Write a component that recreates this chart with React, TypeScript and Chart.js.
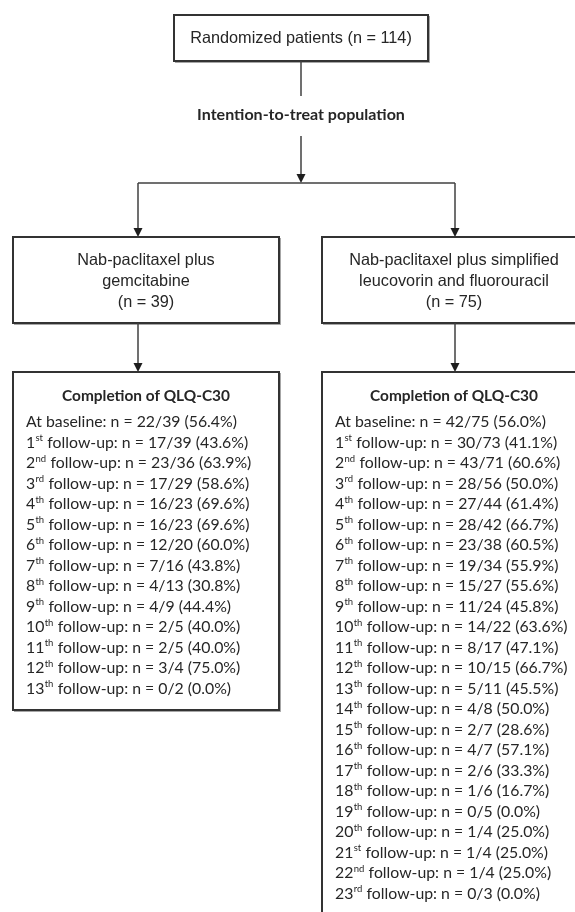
import React, { useEffect, useRef } from 'react';
import { Chart, registerables } from 'chart.js';

Chart.register(...registerables);

// ---------- data ----------
const topLabel = 'Randomized patients (n = 114)';
const ittLabel = 'Intention-to-treat population';
const armNameA = ['Nab-paclitaxel plus', 'gemcitabine'];
const armNameB = ['Nab-paclitaxel plus simplified', 'leucovorin and fluorouracil'];
const armN = [39, 75];
const boxTitle = 'Completion of QLQ-C30';
const baselineLabel = 'At baseline';
const followLabel = 'follow-up';

const armACompleted = [22, 17, 23, 17, 16, 16, 12, 7, 4, 4, 2, 2, 3, 0];
const armATotal = [39, 39, 36, 29, 23, 23, 20, 16, 13, 9, 5, 5, 4, 2];
const armAPct = ['56.4', '43.6', '63.9', '58.6', '69.6', '69.6', '60.0', '43.8', '30.8', '44.4', '40.0', '40.0', '75.0', '0.0'];

const armBCompleted = [42, 30, 43, 28, 27, 28, 23, 19, 15, 11, 14, 8, 10, 5, 4, 2, 4, 2, 1, 0, 1, 1, 1, 0];
const armBTotal = [75, 73, 71, 56, 44, 42, 38, 34, 27, 24, 22, 17, 15, 11, 8, 7, 7, 6, 6, 5, 4, 4, 4, 3];
const armBPct = ['56.0', '41.1', '60.6', '50.0', '61.4', '66.7', '60.5', '55.9', '55.6', '45.8', '63.6', '47.1', '66.7', '45.5', '50.0', '28.6', '57.1', '33.3', '16.7', '0.0', '25.0', '25.0', '25.0', '0.0'];

// ---------- layout (page coordinates) ----------
const W = 575;
const H = 912;
const L = {
  top: { x0: 174, x1: 428, y0: 15, y1: 61 },
  cx: 301,
  ittY: 115,
  line1: [61, 96],
  arrow1: [136, 183],
  hY: 183,
  armX: [138, 455],
  armBoxY: [237, 323],
  armBoxX: [[13, 279], [322, 590]],
  armTextY: [261, 282, 303],
  compBoxY: [372, [710, 940]],
  titleY: 396,
  listY0: 422,
  listStep: 20.5,
  listX: [26, 335],
};

const SANS = '"Liberation Sans", Arial, sans-serif';
const CAL = 'Lato, "Open Sans", sans-serif';
const LINE = '#404040';
const BOX = '#333333';
const TEXT = '#262626';

function ordSuffix(n: number): string {
  const m100 = n % 100;
  if (m100 >= 11 && m100 <= 13) return 'th';
  const m = n % 10;
  if (m === 1) return 'st';
  if (m === 2) return 'nd';
  if (m === 3) return 'rd';
  return 'th';
}

function fitSize(ctx: CanvasRenderingContext2D, text: string, weight: string, family: string, target: number) {
  ctx.font = `${weight} 20px ${family}`;
  const w = ctx.measureText(text).width;
  return (20 * target) / w;
}

const flowPlugin = {
  id: 'flow',
  beforeDraw(chart: any) {
    const ctx = chart.ctx as CanvasRenderingContext2D;
    ctx.save();
    ctx.fillStyle = '#ffffff';
    ctx.fillRect(0, 0, chart.width, chart.height);
    ctx.restore();
  },
  afterDraw(chart: any) {
    const ctx = chart.ctx as CanvasRenderingContext2D;
    const xs = chart.scales.x;
    const ys = chart.scales.y;
    const px = (v: number) => xs.getPixelForValue(v);
    const py = (v: number) => ys.getPixelForValue(v);

    const box = (x0: number, y0: number, x1: number, y1: number) => {
      ctx.save();
      ctx.strokeStyle = BOX;
      ctx.lineWidth = 2;
      ctx.strokeRect(px(x0), py(y0), px(x1) - px(x0), py(y1) - py(y0));
      ctx.strokeStyle = 'rgba(0,0,0,0.35)';
      ctx.lineWidth = 1;
      ctx.beginPath();
      ctx.moveTo(px(x0) + 1, py(y1) + 1.5);
      ctx.lineTo(px(x1) + 1.5, py(y1) + 1.5);
      ctx.lineTo(px(x1) + 1.5, py(y0) + 1);
      ctx.stroke();
      ctx.restore();
    };
    const line = (x0: number, y0: number, x1: number, y1: number) => {
      ctx.save();
      ctx.strokeStyle = LINE;
      ctx.lineWidth = 1.5;
      ctx.beginPath();
      ctx.moveTo(px(x0), py(y0));
      ctx.lineTo(px(x1), py(y1));
      ctx.stroke();
      ctx.restore();
    };
    const arrowDown = (x: number, y0: number, y1: number) => {
      line(x, y0, x, y1 - 8);
      ctx.save();
      ctx.fillStyle = '#1e1e1e';
      ctx.beginPath();
      ctx.moveTo(px(x) - 4.5, py(y1) - 9);
      ctx.lineTo(px(x) + 4.5, py(y1) - 9);
      ctx.lineTo(px(x), py(y1));
      ctx.closePath();
      ctx.fill();
      ctx.restore();
    };
    const text = (t: string, x: number, y: number, font: string, align: CanvasTextAlign = 'center') => {
      ctx.save();
      ctx.font = font;
      ctx.fillStyle = TEXT;
      ctx.textAlign = align;
      ctx.textBaseline = 'middle';
      ctx.fillText(t, px(x), py(y));
      ctx.restore();
    };

    // font sizes fitted to the widths seen in the reference
    const sTop = fitSize(ctx, topLabel, '400', SANS, 222);
    const sItt = fitSize(ctx, ittLabel, '700', CAL, 208);
    const sTitle = fitSize(ctx, boxTitle, '700', CAL, 168);
    const sList = fitSize(ctx, `${baselineLabel}: n = 22/39 (56.4%)`, '400', CAL, 211);

    // top box
    box(L.top.x0, L.top.y0, L.top.x1, L.top.y1);
    text(topLabel, (L.top.x0 + L.top.x1) / 2, (L.top.y0 + L.top.y1) / 2 + 1, `400 ${sTop}px ${SANS}`);
    line(L.cx, L.line1[0], L.cx, L.line1[1]);
    text(ittLabel, L.cx, L.ittY, `700 ${sItt}px ${CAL}`);
    arrowDown(L.cx, L.arrow1[0], L.arrow1[1]);

    // split
    line(L.armX[0], L.hY, L.armX[1], L.hY);
    L.armX.forEach((x) => arrowDown(x, L.hY, L.armBoxY[0]));

    const armNames = [armNameA, armNameB];
    const comps = [
      { c: armACompleted, t: armATotal, p: armAPct },
      { c: armBCompleted, t: armBTotal, p: armBPct },
    ];
    [0, 1].forEach((i) => {
      const [bx0, bx1] = L.armBoxX[i];
      const bcx = (bx0 + Math.min(bx1, 586)) / 2;
      box(bx0, L.armBoxY[0], bx1, L.armBoxY[1]);
      const lines = [...armNames[i], `(n = ${armN[i]})`];
      lines.forEach((t, k) => text(t, bcx, L.armTextY[k], `400 ${sTop}px ${SANS}`));
      arrowDown(L.armX[i], L.armBoxY[1], L.compBoxY[0] as number);

      const yEnd = (L.compBoxY[1] as number[])[i];
      box(bx0, L.compBoxY[0] as number, bx1, yEnd);
      text(boxTitle, bcx, L.titleY, `700 ${sTitle}px ${CAL}`);

      const d = comps[i];
      d.c.forEach((c, k) => {
        const y = py(L.listY0 + k * L.listStep);
        let x = px(L.listX[i]);
        const rest = `: n = ${c}/${d.t[k]} (${d.p[k]}%)`;
        ctx.save();
        ctx.fillStyle = TEXT;
        ctx.textAlign = 'left';
        ctx.textBaseline = 'middle';
        const f = `400 ${sList}px ${CAL}`;
        const fs = `400 ${sList * 0.6}px ${CAL}`;
        if (k === 0) {
          ctx.font = f;
          ctx.fillText(baselineLabel + rest, x, y);
        } else {
          ctx.font = f;
          const num = String(k);
          ctx.fillText(num, x, y);
          x += ctx.measureText(num).width;
          ctx.font = fs;
          const suf = ordSuffix(k);
          ctx.fillText(suf, x + 0.3, y - sList * 0.28);
          x += ctx.measureText(suf).width + 0.6;
          ctx.font = f;
          ctx.fillText(' ' + followLabel + rest, x, y);
        }
        ctx.restore();
      });
    });
  },
};

export default function App() {
  const ref = useRef<HTMLCanvasElement | null>(null);
  useEffect(() => {
    document.body.style.margin = '0';
    const canvas = ref.current;
    if (!canvas) return;
    const chart = new Chart(canvas, {
      type: 'scatter',
      data: { datasets: [{ data: [], pointRadius: 0 }] },
      options: {
        animation: false,
        responsive: false,
        maintainAspectRatio: false,
        layout: { padding: 0 },
        events: [],
        scales: {
          x: { type: 'linear', min: 0, max: W, display: false },
          y: { type: 'linear', min: 0, max: H, reverse: true, display: false },
        },
        plugins: { legend: { display: false }, tooltip: { enabled: false } },
      },
      plugins: [flowPlugin],
    });
    return () => chart.destroy();
  }, []);
  return (
    <div style={{ width: W, height: H, background: '#fff' }}>
      <canvas ref={ref} width={W} height={H} style={{ display: 'block', width: W, height: H }} />
    </div>
  );
}
